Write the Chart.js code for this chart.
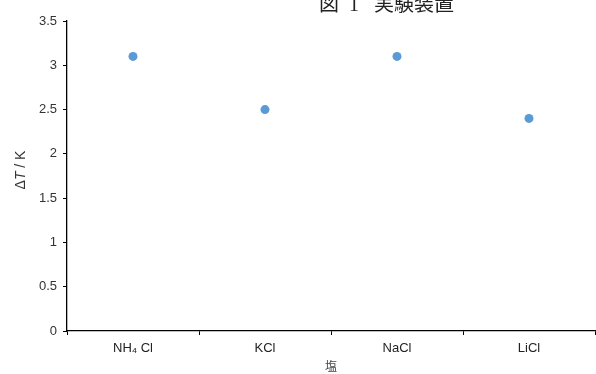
<!DOCTYPE html>
<html><head><meta charset="utf-8">
<script src="https://cdn.jsdelivr.net/npm/chart.js@4"></script>
<style>
html,body{margin:0;padding:0;background:#fff;overflow:hidden;}
#wrap{position:relative;width:596px;height:374px;}
#cap{position:absolute;left:319px;top:-12px;font-family:"Liberation Serif","Noto Sans CJK JP",serif;font-size:20px;color:#222;white-space:pre;}
</style>
</head><body>
<div id="wrap"><canvas id="c" width="596" height="374"></canvas><div id="cap">図<span style="margin-left:10px">1</span><span style="margin-left:15px">実験装置</span></div></div>
<script>
const categories = ["NH₄ Cl", "KCl", "NaCl", "LiCl"];
const deltaT = [3.1, 2.5, 3.1, 2.4];
const yTicks = [0, 0.5, 1, 1.5, 2, 2.5, 3, 3.5];
const xTitle = "塩";

const yTitlePlugin = {
  id: 'yTitle',
  afterDraw(chart) {
    const ctx = chart.ctx;
    ctx.save();
    ctx.translate(21, 170);
    ctx.rotate(-Math.PI / 2);
    ctx.fillStyle = '#333';
    ctx.textBaseline = 'middle';
    const parts = [
      ['Δ', '14px "Liberation Sans", Arial, sans-serif'],
      ['T', 'italic 14px "Liberation Sans", Arial, sans-serif'],
      [' / K', '14px "Liberation Sans", Arial, sans-serif']
    ];
    let total = 0;
    parts.forEach(p => { ctx.font = p[1]; total += ctx.measureText(p[0]).width; });
    let x = -total / 2;
    ctx.textAlign = 'left';
    parts.forEach(p => { ctx.font = p[1]; ctx.fillText(p[0], x, 0); x += ctx.measureText(p[0]).width; });
    ctx.restore();
  }
};

new Chart(document.getElementById('c'), {
  type: 'line',
  data: {
    labels: categories,
    datasets: [{
      data: deltaT,
      showLine: false,
      clip: false,
      pointRadius: 4.5,
      pointHoverRadius: 4.5,
      pointBackgroundColor: '#5B9BD5',
      pointBorderColor: '#5B9BD5',
      pointBorderWidth: 0
    }]
  },
  options: {
    responsive: false,
    animation: false,
    events: [],
    layout: { autoPadding: false, padding: { top: 21, right: 1, left: 0, bottom: 0 } },
    plugins: { legend: { display: false }, tooltip: { enabled: false } },
    scales: {
      x: {
        offset: true,
        grid: { display: true, offset: true, drawOnChartArea: false, drawTicks: true, tickLength: 4, color: '#000', tickColor: '#000' },
        border: { display: true, color: '#000', width: 1.3 },
        ticks: { color: '#222', font: { family: '"Liberation Sans", Arial, sans-serif', size: 13 }, padding: 6, maxRotation: 0 },
        title: { display: true, text: xTitle, color: '#444', font: { family: '"Noto Sans CJK JP", sans-serif', size: 12 }, padding: { top: 0, bottom: 0 } },
        afterFit(s) { s.height = 43; s.paddingLeft = 0; s.paddingRight = 0; }
      },
      y: {
        min: 0, max: 3.5,
        afterBuildTicks(s) { s.ticks = yTicks.map(v => ({ value: v })); },
        grid: { display: true, drawOnChartArea: false, drawTicks: true, tickLength: 4, color: '#000', tickColor: '#000' },
        border: { display: true, color: '#000', width: 1.3 },
        ticks: { color: '#333', font: { family: '"Liberation Sans", Arial, sans-serif', size: 13 }, padding: 6, callback: v => String(v) },
        afterFit(s) { s.width = 67; s.paddingTop = 0; s.paddingBottom = 0; }
      }
    }
  },
  plugins: [yTitlePlugin]
});
</script>
</body></html>
